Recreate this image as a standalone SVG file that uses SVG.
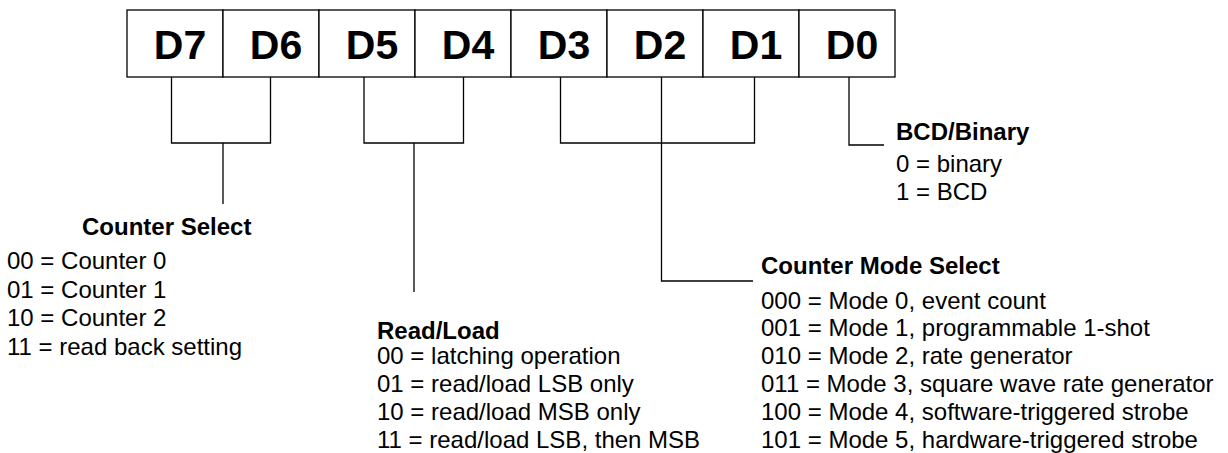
<svg xmlns="http://www.w3.org/2000/svg" width="1228" height="453" viewBox="0 0 1228 453">
<style>
.bit{font-family:"Liberation Sans",Arial,sans-serif;font-weight:bold;font-size:41px;fill:#000;text-anchor:middle}
.hd{font-family:"Liberation Sans",Arial,sans-serif;font-weight:bold;font-size:24px;fill:#000}
.tx{font-family:"Liberation Sans",Arial,sans-serif;font-size:24px;fill:#000}
.cell{fill:#fff;stroke:#000;stroke-width:1.3}
.ln{fill:none;stroke:#000;stroke-width:1.3}
</style>
<rect width="1228" height="453" fill="#fff"/>
<g id="register">
<rect class="cell" x="127" y="10" width="96" height="67"/>
<rect class="cell" x="223" y="10" width="96" height="67"/>
<rect class="cell" x="319" y="10" width="96" height="67"/>
<rect class="cell" x="415" y="10" width="96" height="67"/>
<rect class="cell" x="511" y="10" width="96" height="67"/>
<rect class="cell" x="607" y="10" width="96" height="67"/>
<rect class="cell" x="703" y="10" width="96" height="67"/>
<rect class="cell" x="799" y="10" width="96" height="67"/>
<text class="bit" x="180" y="58.5">D7</text>
<text class="bit" x="276" y="58.5">D6</text>
<text class="bit" x="372" y="58.5">D5</text>
<text class="bit" x="468" y="58.5">D4</text>
<text class="bit" x="564" y="58.5">D3</text>
<text class="bit" x="660" y="58.5">D2</text>
<text class="bit" x="756" y="58.5">D1</text>
<text class="bit" x="852" y="58.5">D0</text>
</g>
<g id="connectors">
<path class="ln" d="M171.5 77V143H270.5V77M223 143V204"/>
<path class="ln" d="M364 77V143H463.5V77M414 143V292"/>
<path class="ln" d="M560.5 77V143H754.5V77M661.5 77V281H753"/>
<path class="ln" d="M849 77V145H884"/>
</g>
<g id="counter-select">
<text class="hd" x="82" y="235">Counter Select</text>
<text class="tx" x="7" y="269">00 = Counter 0</text>
<text class="tx" x="7" y="297.7">01 = Counter 1</text>
<text class="tx" x="7" y="326.4">10 = Counter 2</text>
<text class="tx" x="7" y="355">11 = read back setting</text>
</g>
<g id="read-load">
<text class="hd" x="377" y="338.5">Read/Load</text>
<text class="tx" x="377" y="364.2">00 = latching operation</text>
<text class="tx" x="377" y="392.1">01 = read/load LSB only</text>
<text class="tx" x="377" y="420">10 = read/load MSB only</text>
<text class="tx" x="377" y="448">11 = read/load LSB, then MSB</text>
</g>
<g id="counter-mode-select">
<text class="hd" x="761" y="273.5">Counter Mode Select</text>
<text class="tx" x="761" y="308.5">000 = Mode 0, event count</text>
<text class="tx" x="761" y="336.4">001 = Mode 1, programmable 1-shot</text>
<text class="tx" x="761" y="364.2">010 = Mode 2, rate generator</text>
<text class="tx" x="761" y="392.1">011 = Mode 3, square wave rate generator</text>
<text class="tx" x="761" y="420">100 = Mode 4, software-triggered strobe</text>
<text class="tx" x="761" y="448">101 = Mode 5, hardware-triggered strobe</text>
</g>
<g id="bcd-binary">
<text class="hd" x="896" y="140">BCD/Binary</text>
<text class="tx" x="896" y="172">0 = binary</text>
<text class="tx" x="896" y="200">1 = BCD</text>
</g>
</svg>
